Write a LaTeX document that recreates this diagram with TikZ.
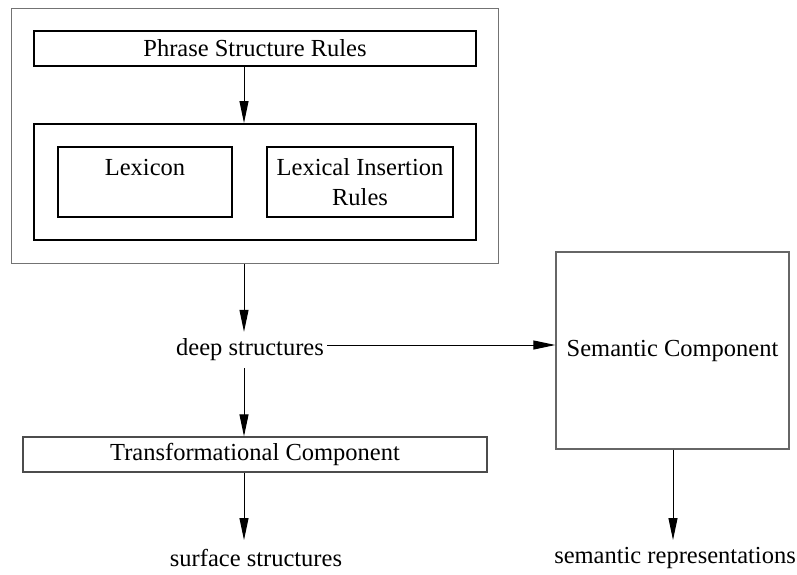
\documentclass[tikz,border=0pt]{standalone}
\usepackage{fontspec}
\setmainfont{Liberation Serif}
\usetikzlibrary{arrows.meta}

\begin{document}
\begin{tikzpicture}[
        x=1pt, y=-1pt,
        font=\fontsize{24.5}{30}\selectfont,
        frame/.style={
            rectangle,
            draw=black!55,
            line width=1pt,
            inner sep=0pt
        },
        block/.style={
            rectangle,
            draw,
            line width=2pt,
            align=center,
            inner sep=0pt
        },
        plainbox/.style={
            rectangle,
            draw=black!70,
            line width=1.3pt,
            align=center,
            inner sep=0pt
        },
        label/.style={
            inner ysep=0pt,
            inner xsep=3pt,
            minimum height=36pt
        },
        arrow/.style={
            -{Triangle[length=22pt,width=9pt]},
            line width=1pt
        }
    ]

        \useasboundingbox (0,0) rectangle (797,574);

        \node[frame, minimum width=487pt, minimum height=255pt] (outer) at (254.5,135.5) {};
        \node[block, minimum width=442pt, minimum height=35pt] (phrase) at (255,48.5) {Phrase Structure Rules};
        \node[block, minimum width=442pt, minimum height=116pt] (lexbox) at (255,182) {};
        \node[block, minimum width=174pt, minimum height=70pt] (lexicon) at (145,182) {Lexicon\\\mbox{}};
        \node[block, minimum width=186pt, minimum height=70pt] (insert) at (360,182) {Lexical Insertion\\Rules};

        \node[label] (deep) at (250,350) {deep structures};
        \node[plainbox, minimum width=464pt, minimum height=35pt] (trans) at (255,454.5) {Transformational Component};
        \node[label, anchor=north] (surface) at (256,540) {surface structures};

        \node[plainbox, draw=black!60, minimum width=233pt, minimum height=197pt] (sem) at (672.5,350.5) {Semantic Component};
        \node[label, anchor=north] (semrep) at (675,540) {semantic representations};

        \coordinate (axis) at (244,0);
        \coordinate (semaxis) at (673,0);

        \draw[arrow] (phrase.south -| axis) -- (lexbox.north -| axis);
        \draw[arrow] (outer.south -| axis) -- (deep.north -| axis);
        \draw[arrow] (deep.south -| axis) -- (trans.north -| axis);
        \draw[arrow] (trans.south -| axis) -- (surface.north -| axis);
        \draw[arrow] ([yshift=5pt]deep.east) -- ([yshift=5pt]deep.east -| sem.west);
        \draw[arrow] (sem.south -| semaxis) -- (semrep.north -| semaxis);

    \end{tikzpicture}
\end{document}
